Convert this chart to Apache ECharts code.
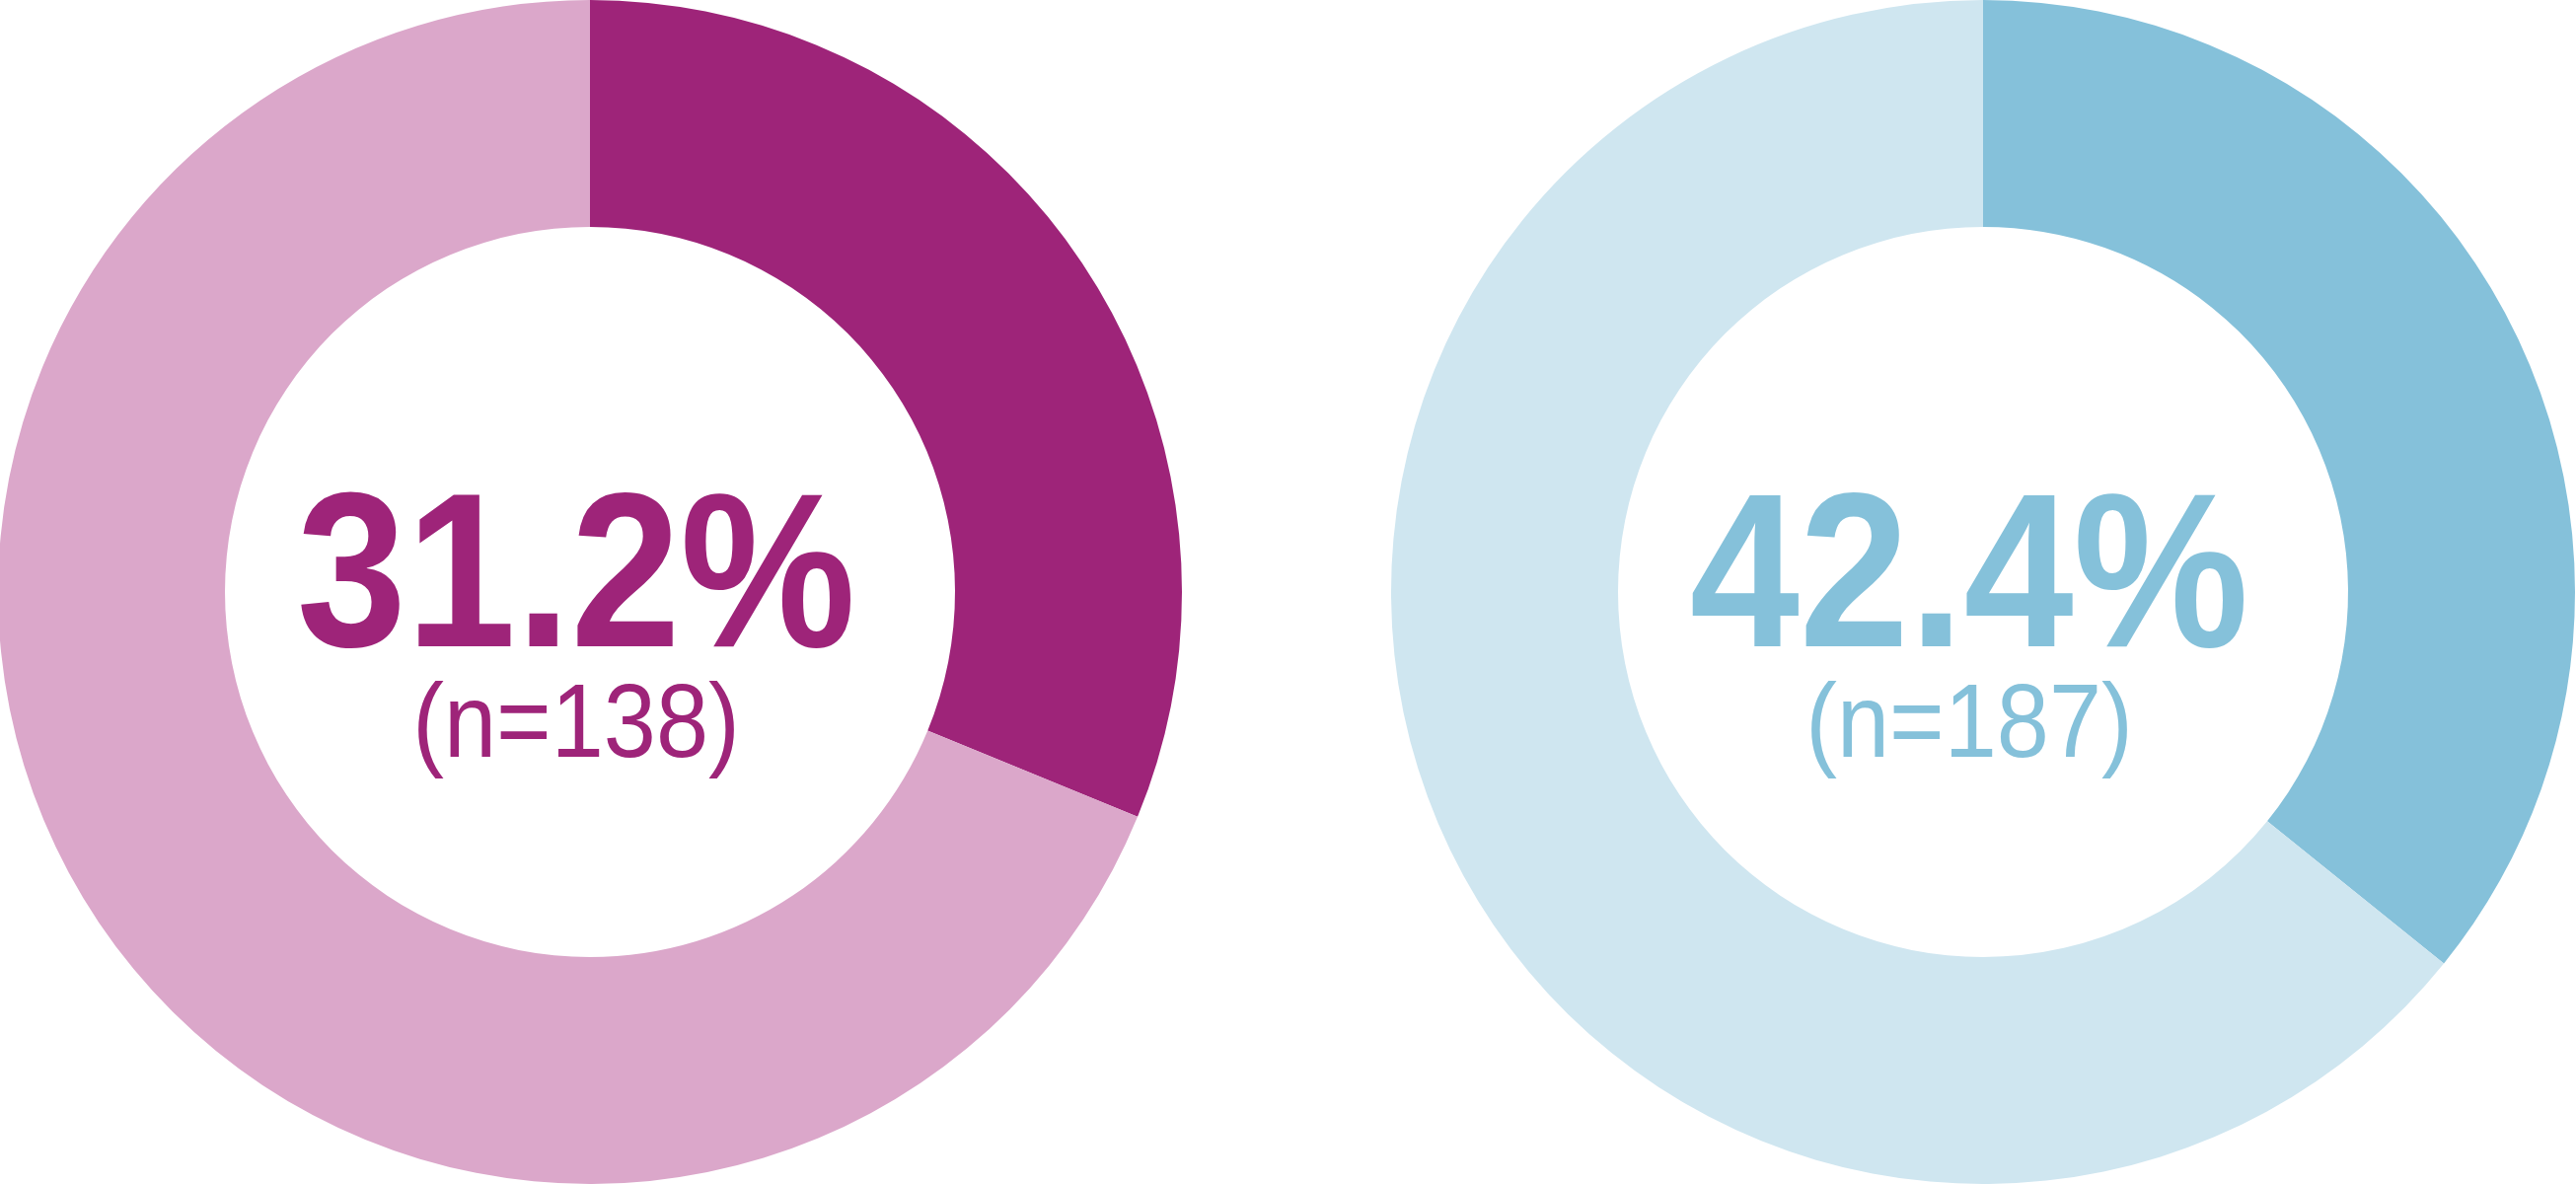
<!DOCTYPE html>
<html>
<head>
<meta charset="utf-8">
<script src="https://cdn.jsdelivr.net/npm/echarts@6/dist/echarts.min.js"></script>
<style>
html,body{margin:0;padding:0;background:#fff;}
#chart{width:2611px;height:1200px;}
</style>
</head>
<body>
<div id="chart"></div>
<script>
// Data
const categories = ['Share', 'Rest'];
const leftValues = [31.2, 68.8];
const rightValues = [35.8, 64.2];
const percentLabels = ['31.2%', '42.4%'];
const sampleLabels = ['(n=138)', '(n=187)'];

// Styles
const leftColors = ['#9E2479', '#DBA7CA'];
const rightColors = ['#85C1DA', '#CFE6F0'];
const centers = [[598, 600], [2010, 600]];
const FONT = 'Liberation Sans';

const chart = echarts.init(document.getElementById('chart'), null, {renderer: 'canvas'});

function pieSeries(values, colors, center) {
  return {
    type: 'pie',
    center: center,
    radius: [370, 600],
    startAngle: 90,
    clockwise: true,
    silent: true,
    animation: false,
    label: {show: false},
    labelLine: {show: false},
    emphasis: {disabled: true},
    itemStyle: {borderWidth: 0},
    data: categories.map((c, i) => ({name: c, value: values[i], itemStyle: {color: colors[i]}}))
  };
}

function texts(idx, color) {
  const cx = centers[idx][0] - 14;
  return [
    {
      type: 'text', x: cx, y: 594, scaleX: 0.9, silent: true,
      style: {text: percentLabels[idx], fontFamily: FONT, fontWeight: 'bold',
        fontSize: 222, fill: color, align: 'center', verticalAlign: 'middle'}
    },
    {
      type: 'text', x: cx, y: 738, scaleX: 0.9, silent: true,
      style: {text: sampleLabels[idx], fontFamily: FONT, fontWeight: 'normal',
        fontSize: 106, fill: color, align: 'center', verticalAlign: 'middle'}
    }
  ];
}

chart.setOption({
  backgroundColor: '#ffffff',
  animation: false,
  series: [
    pieSeries(leftValues, leftColors, centers[0]),
    pieSeries(rightValues, rightColors, centers[1])
  ],
  graphic: texts(0, leftColors[0]).concat(texts(1, rightColors[0]))
});
</script>
</body>
</html>
